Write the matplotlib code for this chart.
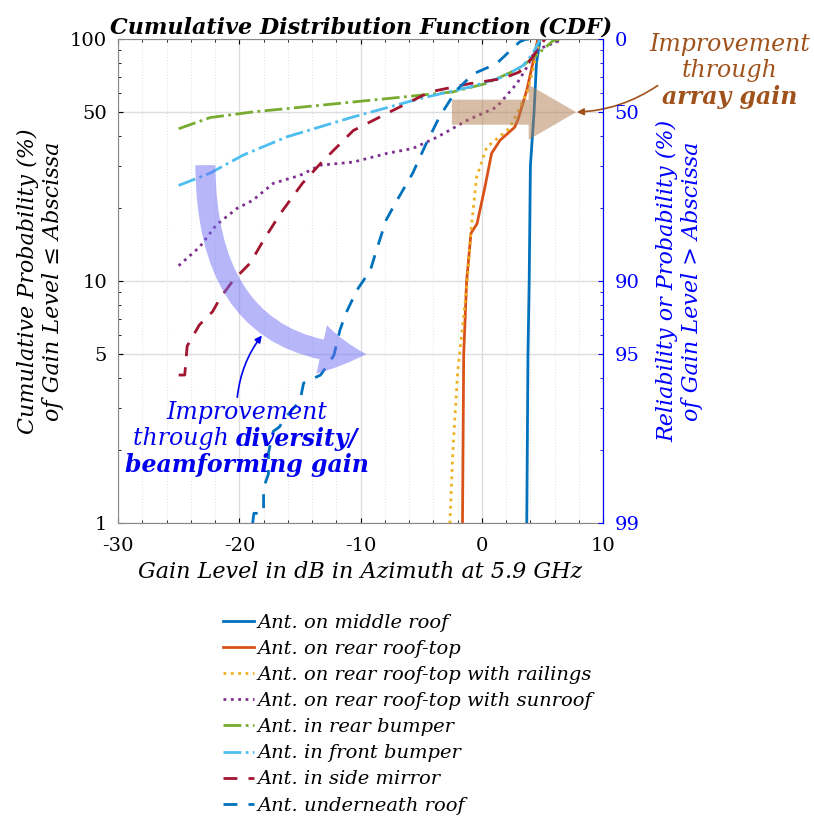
import numpy as np
import matplotlib
matplotlib.use("Agg")
import matplotlib.pyplot as plt
from matplotlib.patches import FancyArrowPatch

plt.rcParams['font.family'] = 'DejaVu Serif'

# gain (dB) / cumulative probability (%)
mid_x = [3.7, 3.8, 3.9, 4.0, 4.3, 4.5, 4.8]
mid_p = [1, 5, 10, 30, 50, 80, 100]

rear_x = [-1.6, -1.5, -1.26, -0.9, -0.4, 0.25, 0.8, 1.5, 2.7, 3.0, 3.7, 4.2, 4.6]
rear_p = [1, 5, 10, 15.8, 17.3, 24.5, 33.8, 38.3, 43.3, 47, 61.6, 79.6, 100]

rail_x = [-2.64, -2.4, -2.0, -1.2, -0.9, -0.44, 0.39, 2.3, 2.9, 3.8, 4.8]
rail_p = [1, 1.95, 4.2, 10, 16.2, 26.9, 35.8, 43, 49.5, 61.6, 100]

sun_x = [-25.0, -23.25, -21.9, -20.2, -18.9, -17.2, -15.0, -13.3, -10.6, -7.8,
         -5.7, -3.7, -1.2, 1.2, 2.9, 3.7, 4.4, 6.7]
sun_p = [11.6, 13.9, 17.1, 20.0, 21.6, 25.4, 27.4, 30.2, 31.1, 33.8,
         35.4, 39.4, 46.3, 52.4, 65.8, 76.6, 90, 100]

rbump_x = [-25.0, -22.4, -18.9, -13.3, -7.8, -2.4, 0.4, 3.1, 4.5, 5.9, 6.4]
rbump_p = [42.7, 47.5, 50.1, 53.4, 56.9, 60.6, 65.8, 75.9, 86, 99, 100]

fbump_x = [-25.0, -22.4, -19.7, -16.1, -10.6, -5.1, -1.0, 1.7, 3.4, 4.2, 4.8]
fbump_p = [24.9, 28.0, 33.2, 39.5, 47.8, 56.9, 63.5, 69.8, 78, 87.3, 100]

mirror_x = [-25.0, -24.5, -24.3, -23.3, -22.2, -21.6, -20.5, -19.1, -18.0, -16.6,
            -14.8, -13.3, -10.6, -7.8, -4.3, -1.0, 1.7, 3.1, 4.2, 4.9, 5.2]
mirror_p = [4.1, 4.1, 5.4, 6.6, 7.5, 8.5, 10.1, 11.9, 14.8, 19.1,
            25.4, 30.7, 42, 49.5, 60.6, 65.6, 68.8, 73.3, 84.5, 96, 100]

under_x = [-18.9, -18.8, -18.0, -18.0, -17.6, -17.6, -17.2, -16.7, -16.2, -15.0, -14.7,
           -13.3, -12.2, -11.7, -11.2, -10.3, -9.2, -8.7, -7.9, -7.0, -5.7, -4.6,
           -3.5, -2.1, -0.7, 1.2, 3.1, 3.6, 4.5]
under_p = [1, 1.1, 1.1, 1.4, 1.6, 1.95, 2.4, 2.5, 2.74, 3.2, 3.8,
           4.1, 4.95, 6.3, 7.4, 9.2, 11.1, 13.4, 17.9, 21.6, 28, 37,
           47.8, 61.6, 72, 79.3, 97.5, 100, 100]

labels = ['Ant. on middle roof', 'Ant. on rear roof-top',
          'Ant. on rear roof-top with railings', 'Ant. on rear roof-top with sunroof',
          'Ant. in rear bumper', 'Ant. in front bumper',
          'Ant. in side mirror', 'Ant. underneath roof']

right_ticks = [100, 50, 10, 5, 1]
right_labels = ['0', '50', '90', '95', '99']

fig = plt.figure(figsize=(8.14, 8.19), dpi=100)
ax = fig.add_axes([0.145, 0.361, 0.596, 0.591])

lw = 2
ax.plot(mid_x, mid_p, '-', color='#0072BD', lw=lw, label=labels[0])
ax.plot(rear_x, rear_p, '-', color='#D95319', lw=lw, label=labels[1])
ax.plot(rail_x, rail_p, ':', color='#EDB120', lw=lw, label=labels[2])
ax.plot(sun_x, sun_p, ':', color='#7E2F8E', lw=lw, label=labels[3])
ax.plot(rbump_x, rbump_p, '-.', color='#77AC30', lw=lw, label=labels[4])
ax.plot(fbump_x, fbump_p, '-.', color='#4DBEEE', lw=lw, label=labels[5])
ax.plot(mirror_x, mirror_p, '--', color='#A2142F', lw=lw, dashes=(5, 4), label=labels[6])
ax.plot(under_x, under_p, '--', color='#0072BD', lw=lw, dashes=(5, 4), label=labels[7])

ax.set_yscale('log')
ax.set_xlim(-30, 10)
ax.set_ylim(1, 100)
ax.set_xticks([-30, -20, -10, 0, 10])
ax.set_xticklabels(['-30', '-20', '-10', '0', '10'])
ax.set_xticks(np.arange(-30, 11, 2), minor=True)
ax.set_yticks([1, 5, 10, 50, 100])
ax.set_yticklabels(['1', '5', '10', '50', '100'])
ax.tick_params(which='both', direction='in', labelsize=14, top=True)
ax.tick_params(axis='x', pad=10)
ax.tick_params(axis='y', pad=8)
ax.tick_params(which='minor', left=False)
ax.grid(True, which='major', color='#dddddd', lw=1)
ax.grid(True, which='minor', axis='x', color='#e6e6e6', lw=0.8, ls=':')
for s in ['left', 'bottom', 'top']:
    ax.spines[s].set_color('#888888')
ax.spines['right'].set_color('blue')

ax2 = ax.twinx()
ax2.set_yscale('log')
ax2.set_ylim(1, 100)
ax2.set_yticks(right_ticks)
ax2.set_yticklabels(right_labels)
ax2.tick_params(which='both', direction='in', colors='blue', labelsize=14, pad=8)
ax2.spines['right'].set_color('blue')
for s in ['left', 'bottom', 'top']:
    ax2.spines[s].set_visible(False)

ax.set_xlabel('Gain Level in dB in Azimuth at 5.9 GHz', fontsize=16, style='italic',
              labelpad=4)
ax.set_ylabel('Cumulative Probability (%)\nof Gain Level \u2264 Abscissa', fontsize=16,
              style='italic', labelpad=4)
ax2.set_ylabel('Reliability or Probability (%)\nof Gain Level > Abscissa', fontsize=16,
               style='italic', color='blue', labelpad=12)
ax.set_title('Cumulative Distribution Function (CDF)', fontsize=16, style='italic',
             weight='bold', pad=4)

# big arrows
blue_arrow = FancyArrowPatch((-22.8, 31), (-9.3, 5),
                             connectionstyle='angle3,angleA=-90,angleB=0',
                             arrowstyle='simple,head_width=2.1,head_length=1.9,tail_width=0.85',
                             mutation_scale=17, color='#6e6ef5', alpha=0.5, lw=0,
                             capstyle='round', zorder=5)
ax.add_patch(blue_arrow)
brown_arrow = FancyArrowPatch((-2.7, 50), (8.0, 50),
                              arrowstyle='simple,head_width=2.2,head_length=1.9,tail_width=1.0',
                              mutation_scale=18, color='#b07b4f', alpha=0.5, lw=0,
                              capstyle='round', zorder=5)
ax.add_patch(brown_arrow)

# annotations
brown = '#a0521c'
fig.text(730 / 814, 1 - 45 / 819, 'Improvement', color=brown, fontsize=17, style='italic',
         ha='center', va='center')
fig.text(730 / 814, 1 - 71 / 819, 'through', color=brown, fontsize=17, style='italic',
         ha='center', va='center')
fig.text(730 / 814, 1 - 97 / 819, 'array gain', color=brown, fontsize=17, style='italic',
         weight='bold', ha='center', va='center')
ax.annotate('', xy=(7.6, 50), xycoords='data', xytext=(660 / 814, 1 - 84 / 819),
            textcoords='figure fraction',
            arrowprops=dict(arrowstyle='-|>', color=brown, lw=1.2,
                            connectionstyle='arc3,rad=-0.15'))

blue = '#0000ee'
fig.text(247 / 814, 1 - 413 / 819, 'Improvement', color=blue, fontsize=17, style='italic',
         ha='center', va='center')
fig.text(236 / 814, 1 - 439 / 819, 'through ', color=blue, fontsize=17, style='italic',
         ha='right', va='center')
fig.text(236 / 814, 1 - 439 / 819, 'diversity/', color=blue, fontsize=17, style='italic',
         weight='bold', ha='left', va='center')
fig.text(247 / 814, 1 - 465 / 819, 'beamforming gain', color=blue, fontsize=17, style='italic',
         weight='bold', ha='center', va='center')
ax.annotate('', xy=(-18.0, 6.1), xycoords='data', xytext=(237 / 814, 1 - 400 / 819),
            textcoords='figure fraction',
            arrowprops=dict(arrowstyle='-|>', color=blue, lw=1.2,
                            connectionstyle='arc3,rad=-0.15'))

fig.legend(loc='upper left', bbox_to_anchor=(205 / 814, 1 - 596 / 819), frameon=False,
           handlelength=1.6, handletextpad=0.2, labelspacing=0.42,
           prop={'style': 'italic', 'size': 14})

fig.savefig('out.png', dpi=100)
